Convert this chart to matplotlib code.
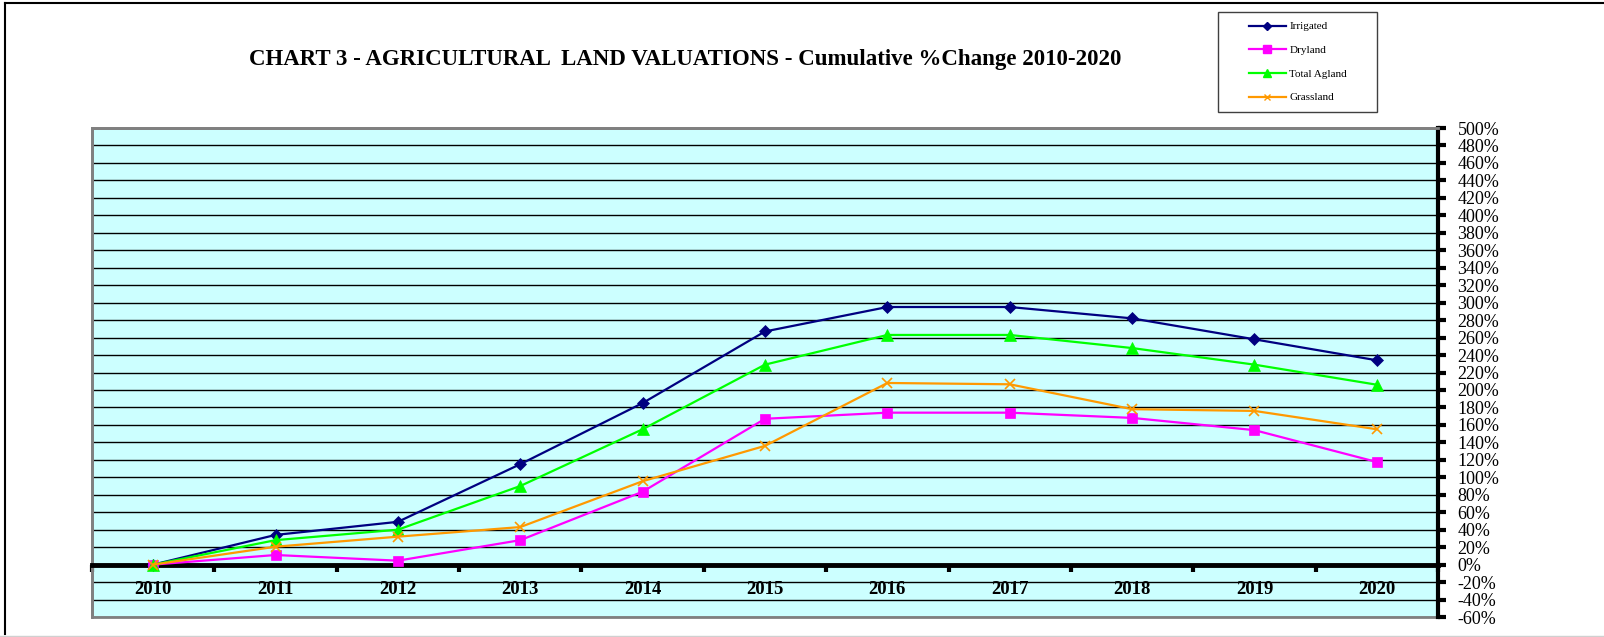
import matplotlib.pyplot as plt
import numpy as np
from matplotlib.lines import Line2D
from matplotlib.patches import Rectangle

plt.rcParams["font.family"] = ["Liberation Serif", "DejaVu Serif"]

years = ["2010", "2011", "2012", "2013", "2014", "2015", "2016", "2017", "2018", "2019", "2020"]
irrigated = [0, 34, 49, 115, 185, 267, 295, 295, 282, 258, 234]
dryland = [0, 11, 4.5, 28, 83.5, 167, 174, 174, 168, 154, 117.5]
total_agland = [0, 28, 40, 90, 155, 229, 263, 263, 248, 229, 206]
grassland = [0, 20.5, 32, 43, 95.5, 136, 208, 206.5, 178, 176, 155]

series = [
    ("Irrigated", irrigated, "#000080", "D", 6),
    ("Dryland", dryland, "#FF00FF", "s", 7.5),
    ("Total Agland", total_agland, "#00FF00", "^", 8),
    ("Grassland", grassland, "#FF9900", "x", 7),
]

W, H = 1604, 637
fig = plt.figure(figsize=(W / 100, H / 100), dpi=100)
ax = fig.add_axes([92 / W, 1 - 617 / H, (1438 - 92) / W, (617 - 128) / H])
ax.set_facecolor("#CCFFFF")

x = np.arange(len(years))
for name, vals, color, marker, ms in series:
    ax.plot(x, vals, color=color, lw=1.6, marker=marker, ms=ms,
            mew=1.2 if marker == "x" else 0.5, mec=color, label=name, zorder=4)

ax.set_xlim(-0.5, len(years) - 0.5)
ax.set_ylim(-60, 500)

# y axis on the right
ax.yaxis.tick_right()
ax.set_yticks(np.arange(-60, 501, 20))
ax.set_yticklabels([f"{v}%" for v in range(-60, 501, 20)], fontsize=13)
ax.tick_params(axis="y", direction="out", length=6, width=3, pad=8, color="black")
ax.yaxis.grid(True, color="black", lw=1)
ax.set_axisbelow(True)

# x axis sits on the zero line, ticks between categories
ax.spines["bottom"].set_position(("data", 0))
ax.spines["bottom"].set_color("black")
ax.spines["bottom"].set_linewidth(3.5)
ax.spines["bottom"].set_zorder(3)
ax.set_xticks(np.arange(-0.5, len(years), 1))
ax.set_xticklabels([])
ax.tick_params(axis="x", which="major", direction="out", length=5, width=3)
ax.set_xticks(x, minor=True)
ax.set_xticklabels(years, minor=True, fontsize=13.5, fontweight="bold")
ax.tick_params(axis="x", which="minor", length=0, pad=12)

for s in ["left", "top"]:
    ax.spines[s].set_color("#808080")
    ax.spines[s].set_linewidth(2)
ax.spines["right"].set_color("black")
ax.spines["right"].set_linewidth(3)
ax.add_patch(Rectangle((0, 0), 1, 1, transform=ax.transAxes, fill=False,
                       ec="#808080", lw=2, clip_on=False, zorder=1))

fig.text(685 / W, 1 - 59 / H,
         "CHART 3 - AGRICULTURAL  LAND VALUATIONS - Cumulative %Change 2010-2020",
         ha="center", va="center", fontsize=16.5, fontweight="bold")

# legend box
fig.patches.append(Rectangle((1218 / W, 1 - 112 / H), 159 / W, 100 / H,
                             transform=fig.transFigure, fill=False, ec="#404040", lw=1))
handles = [Line2D([], [], color=c, lw=1.6, marker=m, ms=ms * 0.7, mec=c) for _, _, c, m, ms in series]
fig.legend(handles, [s[0] for s in series], loc="center",
           bbox_to_anchor=(1298 / W, 1 - 62 / H), frameon=False, fontsize=8,
           handlelength=3.3, handletextpad=0.35, labelspacing=1.25, borderpad=0)

# page border
fig.add_artist(Line2D([5 / W, 5 / W], [0.005, 1 - 3 / H], color="black", lw=1.5))
fig.add_artist(Line2D([5 / W, 1], [1 - 3 / H, 1 - 3 / H], color="black", lw=1.5))
fig.add_artist(Line2D([0, 1], [1 / H, 1 / H], color="#D0D0D0", lw=1))

fig.savefig("out.png", dpi=100)
